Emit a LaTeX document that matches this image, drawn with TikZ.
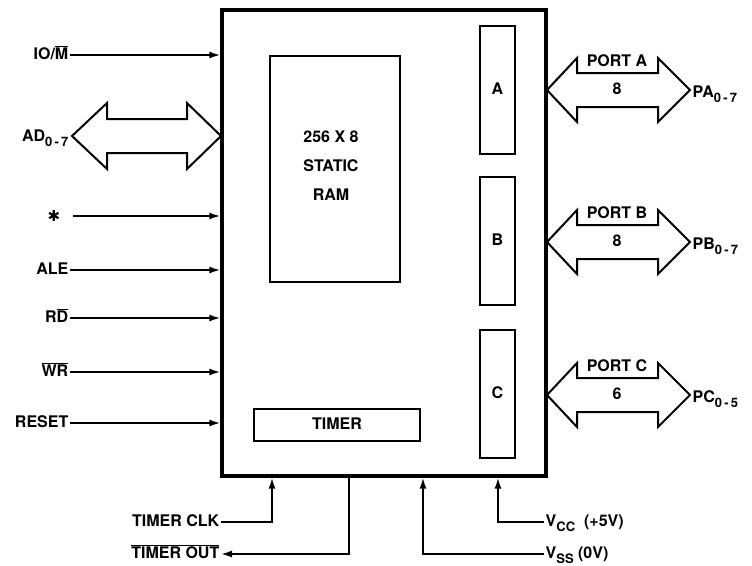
\documentclass[tikz,border=0pt]{standalone}
\usepackage{fontspec}
\setmainfont{TeX Gyre Heros}
\newfontfamily\dejavu{DejaVu Sans}
\usetikzlibrary{arrows.meta}
\newcommand\lsub[1]{\raisebox{-0.55ex}{\fontsize{13}{13}\selectfont #1}}
\newcommand\ovl[1]{\ensuremath{\overline{\hbox{#1}}}}
\begin{document}
\begin{tikzpicture}[x=1pt,y=-1pt,
  lbl/.style={font=\fontsize{16}{18}\selectfont\bfseries, inner sep=1.5pt, text height=11.5pt, text depth=3pt},
  box/.style={draw, line width=2pt, inner sep=0pt},
  sig/.style={line width=1.8pt, -{Latex[length=11pt,width=7pt]}},
  bus/.style={draw, line width=2pt, line join=miter}]
\useasboundingbox (0,0) rectangle (752,565);

% main chip and internal blocks
\node[box, line width=3.2pt, minimum width=324pt, minimum height=466pt] (chip) at (384,243) {};
\node[box, minimum width=130pt, minimum height=226pt] (ram) at (335,169) {};
\node[lbl, align=center, font=\fontsize{16}{29}\selectfont\bfseries, text height=, text depth=] (ramtxt) at (331,166) {256 X 8\\STATIC\\RAM};
\node[box, minimum width=35pt, minimum height=128pt] (pa) at (497.5,90) {};
\node[lbl] (pat) at (pa.center) {A};
\node[box, minimum width=35pt, minimum height=128pt] (pb) at (497.5,241) {};
\node[lbl] (pbt) at (pb.center) {B};
\node[box, minimum width=35pt, minimum height=128pt] (pc) at (497.5,394) {};
\node[lbl] (pct) at (pc.center) {C};
\node[box, minimum width=166pt, minimum height=32pt] (timer) at (337,425) {};
\node[lbl] (timert) at (timer.center) {TIMER};

% left inputs
\node[lbl, anchor=east] (io) at (70,55) {IO/\ovl{M}};
\draw[sig] (io.east) -- (io.east -| chip.west);
\node[lbl, anchor=east] (ad) at (70,137) {AD\lsub{0\,-\,7}};
\draw[bus] (72,136) -- (107,103) -- (107,119) -- (187,119) -- (187,103) -- (221,136)
  -- (187,169) -- (187,153) -- (107,153) -- (107,169) -- cycle;
\node[font=\dejavu\fontsize{15}{15}\selectfont\bfseries, inner sep=1pt] (star) at (54,216) {✱};
\coordinate (starl) at (73,216);
\draw[sig] (starl) -- (starl -| chip.west);
\node[lbl, anchor=east] (ale) at (70,270) {ALE};
\draw[sig] (ale.east) -- (ale.east -| chip.west);
\node[lbl, anchor=east] (rd) at (70,318) {R\ovl{D}};
\draw[sig] (rd.east) -- (rd.east -| chip.west);
\node[lbl, anchor=east] (wr) at (70,372) {\ovl{WR}};
\draw[sig] (wr.east) -- (wr.east -| chip.west);
\node[lbl, anchor=east] (reset) at (70,423) {RESET};
\draw[sig] (reset.east) -- (reset.east -| chip.west);

% ports
\foreach \y in {90,242,395} {
  \draw[bus] (547,\y) -- (577,\y-32) -- (577,\y-17) -- (658,\y-17) -- (658,\y-32) -- (690,\y)
    -- (658,\y+32) -- (658,\y+17) -- (577,\y+17) -- (577,\y+32) -- cycle;
}
\node[lbl] (porta) at (617,62) {PORT A};
\node[lbl] (na) at (617,90) {8};
\node[lbl, anchor=west] (pal) at (691,93) {PA\lsub{0\,-\,7}};
\node[lbl] (portb) at (617,214) {PORT B};
\node[lbl] (nb) at (617,242) {8};
\node[lbl, anchor=west] (pbl) at (691,245) {PB\lsub{0\,-\,7}};
\node[lbl] (portc) at (617,367) {PORT C};
\node[lbl] (nc) at (617,395) {6};
\node[lbl, anchor=west] (pcl) at (691,398) {PC\lsub{0\,-\,5}};

% bottom signals
\node[lbl, anchor=east] (clk) at (221,522) {TIMER CLK};
\coordinate (clkc) at (272,522);
\draw[sig] (clk.east) -- (clkc) -- (clkc |- chip.south);

\node[lbl, anchor=east] (tout) at (221,554) {\ovl{TIMER OUT}};
\coordinate (toc) at (349,554);
\draw[sig] (toc |- chip.south) -- (toc) -- (tout.east);

\node[lbl, anchor=west] (vcc) at (544,522) {V\lsub{CC}\hspace{9pt}(+5V)};
\coordinate (vccc) at (498,522);
\draw[sig] (vcc.west) -- (vccc) -- (vccc |- chip.south);

\node[lbl, anchor=west] (vss) at (544,554) {V\lsub{SS} (0V)};
\coordinate (vssc) at (423,554);
\draw[sig] (vss.west) -- (vssc) -- (vssc |- chip.south);
\end{tikzpicture}
\end{document}
